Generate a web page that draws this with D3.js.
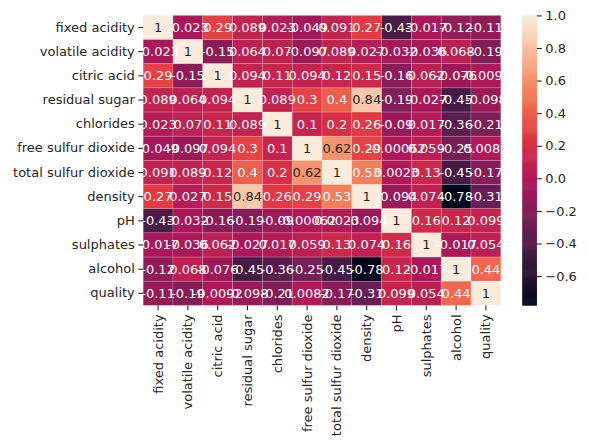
<!DOCTYPE html>
<html><head><meta charset="utf-8">
<script src="https://cdn.jsdelivr.net/npm/d3@7"></script>
<style>body{margin:0;background:#fff;} text{font-family:"DejaVu Sans",sans-serif;}</style>
</head><body>
<svg id="c" width="589" height="448"></svg>
<script>
const labels = ["fixed acidity","volatile acidity","citric acid","residual sugar","chlorides","free sulfur dioxide","total sulfur dioxide","density","pH","sulphates","alcohol","quality"];
const corr = [
 [1, -0.0227, 0.289, 0.0890, 0.0231, -0.0494, 0.0911, 0.265, -0.426, -0.0171, -0.121, -0.114],
 [-0.0227, 1, -0.149, 0.0643, 0.0705, -0.0970, 0.0893, 0.0271, -0.0319, -0.0357, 0.0677, -0.1947],
 [0.289, -0.149, 1, 0.0942, 0.114, 0.0941, 0.121, 0.150, -0.164, 0.0623, -0.0757, -0.00921],
 [0.0890, 0.0643, 0.0942, 1, 0.0887, 0.299, 0.401, 0.839, -0.194, -0.0267, -0.451, -0.0976],
 [0.0231, 0.0705, 0.114, 0.0887, 1, 0.101, 0.199, 0.257, -0.0904, 0.0168, -0.360, -0.210],
 [-0.0494, -0.0970, 0.0941, 0.299, 0.101, 1, 0.616, 0.294, -0.000618, 0.0592, -0.250, 0.00816],
 [0.0911, 0.0893, 0.121, 0.401, 0.199, 0.616, 1, 0.530, 0.00232, 0.134, -0.449, -0.175],
 [0.265, 0.0271, 0.150, 0.839, 0.257, 0.294, 0.530, 1, -0.0936, 0.0745, -0.780, -0.307],
 [-0.426, -0.0319, -0.164, -0.194, -0.0904, -0.000618, 0.00232, -0.0936, 1, 0.156, 0.121, 0.0994],
 [-0.0171, -0.0357, 0.0623, -0.0267, 0.0168, 0.0592, 0.134, 0.0745, 0.156, 1, -0.0174, 0.0537],
 [-0.121, 0.0677, -0.0757, -0.451, -0.360, -0.250, -0.449, -0.780, 0.121, -0.0174, 1, 0.436],
 [-0.114, -0.1947, -0.00921, -0.0976, -0.210, 0.00816, -0.175, -0.307, 0.0994, 0.0537, 0.436, 1]
];
const cbTicks = [-0.6, -0.4, -0.2, 0.0, 0.2, 0.4, 0.6, 0.8, 1.0];
const rocketStops = ["#03051a","#35193e","#701f57","#ad1759","#e13342","#f37651","#f6b48f","#faebdd"];

const svg = d3.select("#c");
const X0 = 143.2, X1 = 500.8, Y0 = 15.4, Y1 = 305.4;
const x = d3.scaleBand().domain(labels).range([X0, X1]);
const y = d3.scaleBand().domain(labels).range([Y0, Y1]);
const vmin = d3.min(corr.flat()), vmax = d3.max(corr.flat());
const rocket = d3.scaleLinear().domain(d3.range(rocketStops.length).map(i => i/(rocketStops.length-1))).range(rocketStops).interpolate(d3.interpolateRgb);
const color = v => rocket((v - vmin)/(vmax - vmin));

const loc = d3.formatLocale({decimal:".", thousands:",", grouping:[3], currency:["$",""], minus:"-"});
const fmt = loc.format(".2~g");

function lum(c){
  const r = d3.rgb(c);
  const f = u => { u/=255; return u <= 0.03928 ? u/12.92 : Math.pow((u+0.055)/1.055, 2.4); };
  return 0.2126*f(r.r)+0.7152*f(r.g)+0.0722*f(r.b);
}

const cells = [];
corr.forEach((row,i) => row.forEach((v,j) => cells.push({r:labels[i], c:labels[j], v})));

svg.append("g").selectAll("rect").data(cells).join("rect")
  .attr("x", d => x(d.c)).attr("y", d => y(d.r))
  .attr("width", x.bandwidth()).attr("height", y.bandwidth())
  .attr("fill", d => color(d.v))
  .attr("stroke", "rgba(255,255,255,0.3)").attr("stroke-width", 0.6);

svg.append("g").selectAll("text").data(cells).join("text")
  .attr("x", d => x(d.c) + x.bandwidth()/2)
  .attr("y", d => y(d.r) + y.bandwidth()/2)
  .attr("text-anchor", "middle").attr("dominant-baseline", "central")
  .attr("font-size", 13)
  .attr("fill", d => lum(color(d.v)) > 0.408 ? "#262626" : "#ffffff")
  .text(d => fmt(d.v));

// y axis
const yAx = svg.append("g").attr("transform", `translate(${X0},0)`)
  .call(d3.axisLeft(y).tickSize(4.9).tickPadding(3.5));
yAx.select(".domain").remove();
yAx.selectAll("text").attr("font-size", 13).attr("fill", "#262626").attr("font-family", "DejaVu Sans");
yAx.selectAll("line").attr("stroke", "#262626").attr("stroke-width", 1.1);

// x axis
const xAx = svg.append("g").attr("transform", `translate(0,${Y1})`)
  .call(d3.axisBottom(x).tickSize(4.9).tickPadding(3.5));
xAx.select(".domain").remove();
xAx.selectAll("line").attr("stroke", "#262626").attr("stroke-width", 1.1);
xAx.selectAll("text").attr("font-size", 13).attr("fill", "#262626").attr("font-family", "DejaVu Sans")
  .attr("transform", "rotate(-90)").attr("text-anchor", "end")
  .attr("x", -9).attr("y", 0).attr("dy", "0.35em");

// colorbar
const CB0 = 522.3, CBW = 14.6;
const cy = d3.scaleLinear().domain([vmin, vmax]).range([Y1, Y0]);
const nSteps = 300;
const steps = d3.range(nSteps).map(i => vmin + (vmax - vmin)*i/nSteps);
svg.append("g").selectAll("rect").data(steps).join("rect")
  .attr("x", CB0).attr("width", CBW)
  .attr("y", d => cy(d + (vmax-vmin)/nSteps) - 0.3)
  .attr("height", (Y1 - Y0)/nSteps + 0.6)
  .attr("fill", d => color(d + (vmax-vmin)/nSteps/2));
const cAx = svg.append("g").attr("transform", `translate(${CB0+CBW},0)`)
  .call(d3.axisRight(cy).tickValues(cbTicks).tickSize(4.9).tickPadding(3.5).tickFormat(d3.format(".1f")));
cAx.select(".domain").remove();
cAx.selectAll("line").attr("stroke", "#262626").attr("stroke-width", 1.1);
cAx.selectAll("text").attr("font-size", 13).attr("fill", "#262626").attr("font-family", "DejaVu Sans");
</script>
</body></html>
